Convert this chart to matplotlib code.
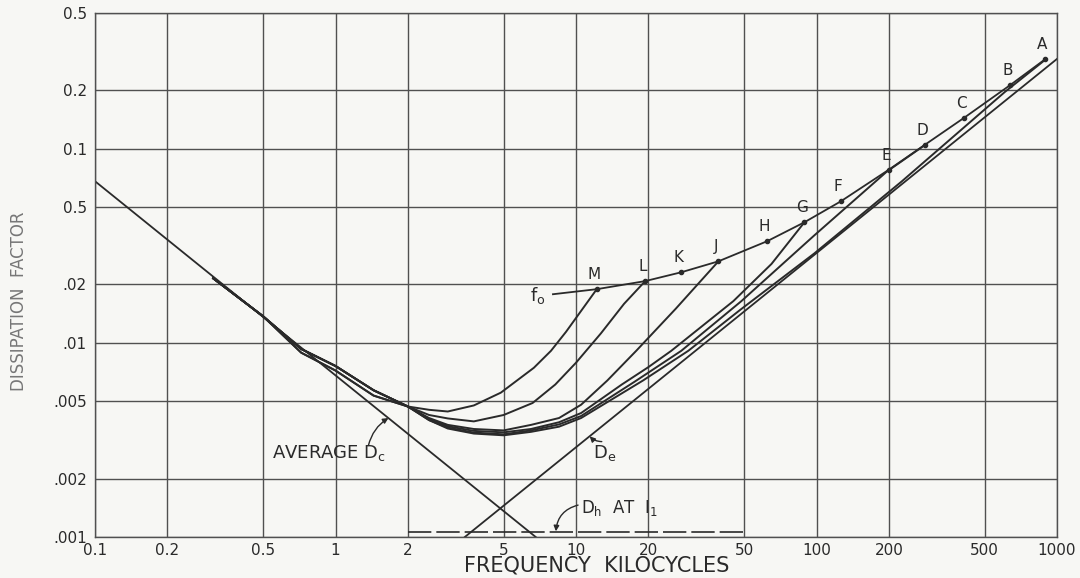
"""Dissipation factor vs frequency, redrawn from a scanned figure."""

import matplotlib

matplotlib.use("Agg")
import matplotlib.pyplot as plt

OUT = "out.png"
INK = "#2a2a2a"
GRID = "#505050"
PAPER = "#f7f7f4"

# axis ticks, labels as printed on the original
X_TICKS = [0.1, 0.2, 0.5, 1, 2, 5, 10, 20, 50, 100, 200, 500, 1000]
X_LABELS = ["0.1", "0.2", "0.5", "1", "2", "5", "10", "20", "50", "100", "200", "500", "1000"]
Y_TICKS = [0.001, 0.002, 0.005, 0.01, 0.02, 0.05, 0.1, 0.2, 0.5]
Y_LABELS = [".001", ".002", ".005", ".01", ".02", "0.5", "0.1", "0.2", "0.5"]

# straight components
DC_F = [0.1, 6.8]
DC_D = [0.068, 0.001]
DE_F = [3.45, 1000]
DE_D = [0.001, 0.29]
DH_F = [2, 50]
DH_D = [0.00106, 0.00106]

# low-frequency part shared by the measured curves
COMMON_F = [0.31, 0.5, 0.72, 1.0, 1.44, 2.0]
COMMON_D = [0.0215, 0.0137, 0.0093, 0.0076, 0.0057, 0.0047]
LOWER_D = [0.0215, 0.0137, 0.0089, 0.0072, 0.00535, 0.0047]

# measured curves from 2 kc up to their resonance point
M_F = [2.45, 2.93, 3.76, 4.87, 6.68, 7.87, 9.09, 12.2]
M_D = [0.00452, 0.00443, 0.00476, 0.00554, 0.00744, 0.0091, 0.0114, 0.0189]
L_F = [2.45, 2.93, 3.76, 5.0, 6.6, 8.2, 10.0, 12.7, 15.85, 19.4]
L_D = [0.00425, 0.00408, 0.00394, 0.00425, 0.0049, 0.0061, 0.0079, 0.0112, 0.0159, 0.0208]
J_F = [2.45, 2.93, 3.76, 5.0, 6.5, 8.5, 10.5, 13.5, 17.8, 26, 39.1]
J_D = [0.0041, 0.00378, 0.0036, 0.00354, 0.00378, 0.0041, 0.0048, 0.0064, 0.0091, 0.0150, 0.0263]
G_F = [2.45, 2.93, 3.76, 5.0, 6.5, 8.5, 10.5, 15.5, 20, 24.9, 45.1, 65, 89.1]
G_D = [0.00405, 0.00372, 0.00352, 0.00346, 0.0036, 0.0039, 0.00435, 0.0061, 0.0075, 0.0091, 0.0164, 0.0255, 0.0418]
D_F = [2.45, 2.93, 3.76, 5.0, 6.5, 8.5, 10.5, 17.5, 27.4, 48.7, 98, 196, 284]
D_D = [0.004, 0.00366, 0.00345, 0.00338, 0.00354, 0.0038, 0.0042, 0.0063, 0.0091, 0.0164, 0.0358, 0.0762, 0.105]
A_F = [2.45, 2.93, 3.76, 5.0, 6.5, 8.5, 10.5, 19, 29.3, 48.2, 98, 226, 607, 899]
A_D = [0.0040, 0.00362, 0.00341, 0.00334, 0.00348, 0.0037, 0.0041, 0.0064, 0.0091, 0.0148, 0.0289, 0.0678, 0.196, 0.289]

# locus of resonance frequencies f0
F0_NAMES = ["M", "L", "K", "J", "H", "G", "F", "E", "D", "C", "B", "A"]
F0_F = [12.2, 19.4, 27.4, 39.1, 62.4, 89.1, 126, 200, 283, 410, 640, 893]
F0_D = [0.0189, 0.0208, 0.0231, 0.0263, 0.0334, 0.0418, 0.0535, 0.078, 0.105, 0.144, 0.213, 0.289]
F0_START = (8.02, 0.0178)


def draw_curves(ax):
    """Plot the straight components and the measured curves."""
    ax.plot(DC_F, DC_D, color=INK, lw=1.3)
    ax.plot(DE_F, DE_D, color=INK, lw=1.3)
    ax.plot(DH_F, DH_D, color=INK, lw=1.2, dashes=(14, 3))

    curves = [(M_F, M_D, COMMON_D), (L_F, L_D, COMMON_D), (J_F, J_D, COMMON_D),
              (G_F, G_D, COMMON_D), (D_F, D_D, LOWER_D), (A_F, A_D, LOWER_D)]
    for f, d, low in curves:
        ax.plot(COMMON_F + f, low + d, color=INK, lw=1.4, solid_joinstyle="round")

    ax.plot([F0_START[0]] + F0_F, [F0_START[1]] + F0_D, color=INK, lw=1.3)
    ax.plot(F0_F, F0_D, "o", color=INK, ms=3)
    for name, f, d in zip(F0_NAMES, F0_F, F0_D):
        ax.annotate(name, (f, d), xytext=(-2, 5), textcoords="offset points",
                    ha="center", va="bottom", fontsize=11, color=INK)
    ax.text(F0_START[0] * 0.93, F0_START[1] * 0.98, "f$_\\mathregular{o}$",
            ha="right", va="center", fontsize=13, color=INK)


def draw_notes(ax):
    """Hand-lettered labels with their leader arrows."""
    arrow = dict(arrowstyle="-|>", color=INK, lw=1.0, mutation_scale=8,
                 connectionstyle="arc3,rad=-0.2", shrinkA=0, shrinkB=0)
    ax.annotate("", xy=(1.66, 0.0041), xytext=(1.37, 0.00296), arrowprops=arrow)
    ax.text(0.546, 0.0027, "AVERAGE D$_\\mathregular{c}$", ha="left", va="center",
            fontsize=13, color=INK)

    ax.annotate("", xy=(11.4, 0.0033), xytext=(12.8, 0.0031), arrowprops=arrow)
    ax.text(13.1, 0.0027, "D$_\\mathregular{e}$", ha="center", va="center",
            fontsize=13, color=INK)

    arrow_h = dict(arrow, connectionstyle="arc3,rad=0.35")
    ax.annotate("", xy=(8.25, 0.00107), xytext=(10.2, 0.00146), arrowprops=arrow_h)
    ax.text(10.5, 0.00141, "D$_\\mathregular{h}$  AT  I$_\\mathregular{1}$",
            ha="left", va="center", fontsize=12, color=INK)


def main():
    fig = plt.figure(figsize=(10.8, 5.78), dpi=100, facecolor=PAPER)
    ax = fig.add_axes([95 / 1080, 1 - 537 / 578, 962 / 1080, 524 / 578])
    ax.set_facecolor(PAPER)
    ax.set_xscale("log")
    ax.set_yscale("log")
    ax.set_xlim(0.1, 1000)
    ax.set_ylim(0.001, 0.5)

    ax.set_xticks(X_TICKS)
    ax.set_xticklabels(X_LABELS)
    ax.set_yticks(Y_TICKS)
    ax.set_yticklabels(Y_LABELS)
    ax.minorticks_off()
    ax.tick_params(length=0, labelsize=11, colors=INK)
    ax.tick_params(axis="x", pad=4)
    ax.tick_params(axis="y", pad=6)
    ax.grid(True, color=GRID, lw=1.0)
    for spine in ax.spines.values():
        spine.set_color(GRID)
        spine.set_linewidth(1.0)

    draw_curves(ax)
    draw_notes(ax)

    fig.text(597 / 1080, 1 - 566 / 578, "FREQUENCY  KILOCYCLES", ha="center",
             va="center", fontsize=15, color=INK)
    fig.text(0.018, 1 - 301 / 578, "DISSIPATION  FACTOR", rotation=90,
             ha="center", va="center", fontsize=12, color="#777777")

    fig.savefig(OUT, dpi=100, facecolor=PAPER)
    plt.close(fig)


if __name__ == "__main__":
    main()
